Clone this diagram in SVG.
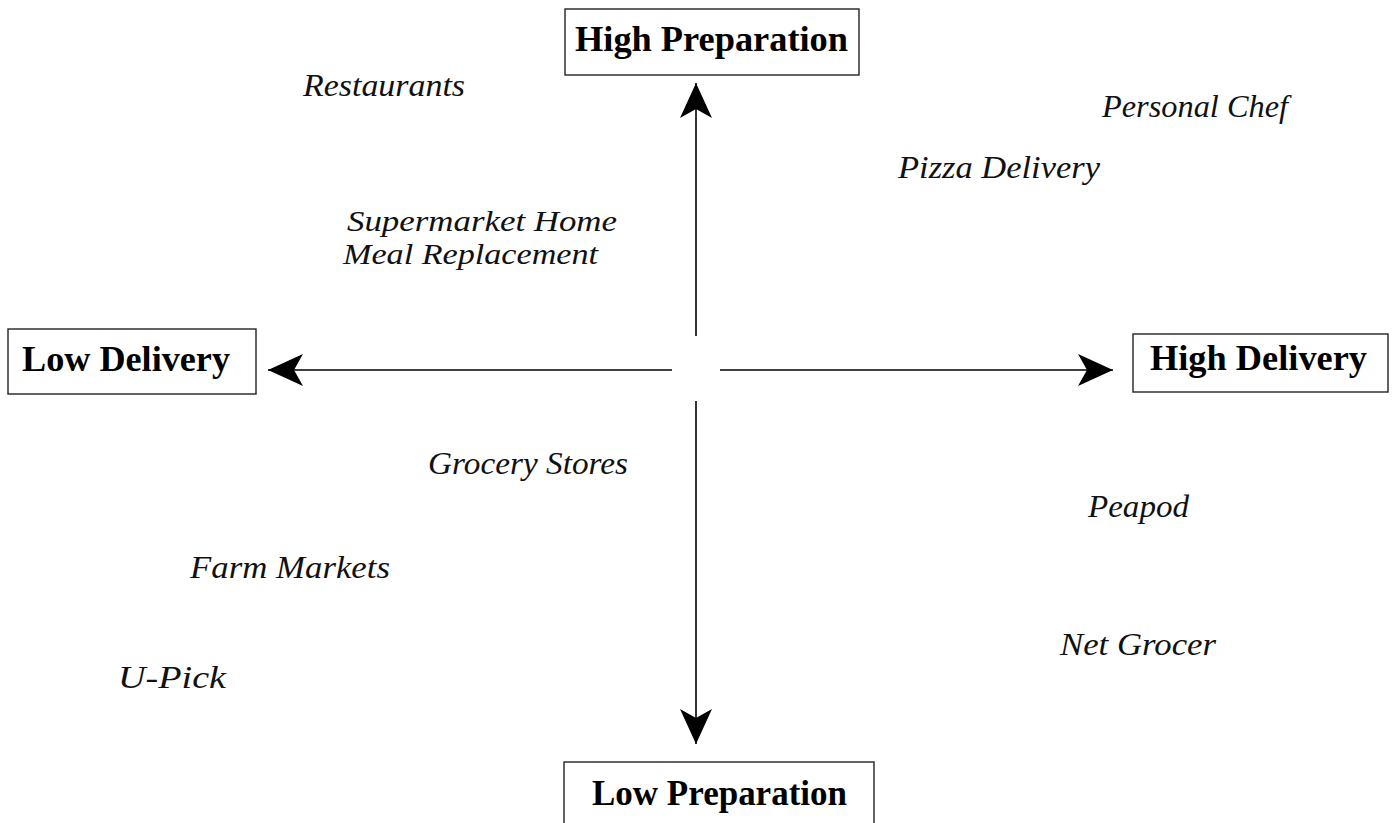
<svg xmlns="http://www.w3.org/2000/svg" width="1393" height="823" viewBox="0 0 1393 823">
<style>
.box{fill:#fff;stroke:#222;stroke-width:1.4}
.lbl{font-family:"Liberation Serif",serif;font-weight:bold;font-size:35px;fill:#000}
.item{font-family:"Liberation Serif",serif;font-style:italic;font-size:32px;fill:#111}
.tight{font-size:28.5px}
.ax{stroke:#000;stroke-width:1.6;fill:none;marker-end:url(#ah)}
</style>
<defs>
<marker id="ah" markerUnits="userSpaceOnUse" viewBox="0 0 35 32" refX="35" refY="16" markerWidth="35" markerHeight="32" orient="auto">
<path d="M0,0 L35,16 L0,32 L9,16 Z" fill="#000"/>
</marker>
</defs>
<rect width="1393" height="823" fill="#fff"/>
<g id="connectors">
<line class="ax" x1="696" y1="336" x2="696" y2="83"/>
<line class="ax" x1="696" y1="401" x2="696" y2="744"/>
<line class="ax" x1="672" y1="370" x2="268" y2="370"/>
<line class="ax" x1="720" y1="370" x2="1113" y2="370"/>
</g>
<g id="high-preparation">
<rect class="box" x="565" y="9" width="294" height="66"/>
<text class="lbl" x="575" y="51" textLength="273" lengthAdjust="spacingAndGlyphs">High Preparation</text>
</g>
<g id="low-delivery">
<rect class="box" x="8" y="329" width="248" height="65"/>
<text class="lbl" x="22" y="371" textLength="208" lengthAdjust="spacingAndGlyphs">Low Delivery</text>
</g>
<g id="high-delivery">
<rect class="box" x="1133" y="334" width="255" height="58"/>
<text class="lbl" x="1150" y="370" textLength="217" lengthAdjust="spacingAndGlyphs">High Delivery</text>
</g>
<g id="low-preparation">
<rect class="box" x="564" y="762" width="310" height="70"/>
<text class="lbl" x="592" y="805" textLength="255" lengthAdjust="spacingAndGlyphs">Low Preparation</text>
</g>
<g id="items">
<text class="item" x="303" y="96" textLength="162" lengthAdjust="spacingAndGlyphs">Restaurants</text>
<text class="item" x="1102" y="117" textLength="186" lengthAdjust="spacingAndGlyphs">Personal Chef</text>
<text class="item" x="898" y="178" textLength="202" lengthAdjust="spacingAndGlyphs">Pizza Delivery</text>
<text class="item tight" x="347" y="231" textLength="270" lengthAdjust="spacingAndGlyphs">Supermarket Home</text>
<text class="item tight" x="343" y="264" textLength="255" lengthAdjust="spacingAndGlyphs">Meal Replacement</text>
<text class="item" x="428" y="474" textLength="200" lengthAdjust="spacingAndGlyphs">Grocery Stores</text>
<text class="item" x="1088" y="517" textLength="101" lengthAdjust="spacingAndGlyphs">Peapod</text>
<text class="item" x="190" y="578" textLength="200" lengthAdjust="spacingAndGlyphs">Farm Markets</text>
<text class="item" x="1060" y="655" textLength="156" lengthAdjust="spacingAndGlyphs">Net Grocer</text>
<text class="item" x="118" y="688" textLength="108" lengthAdjust="spacingAndGlyphs">U-Pick</text>
</g>
</svg>
